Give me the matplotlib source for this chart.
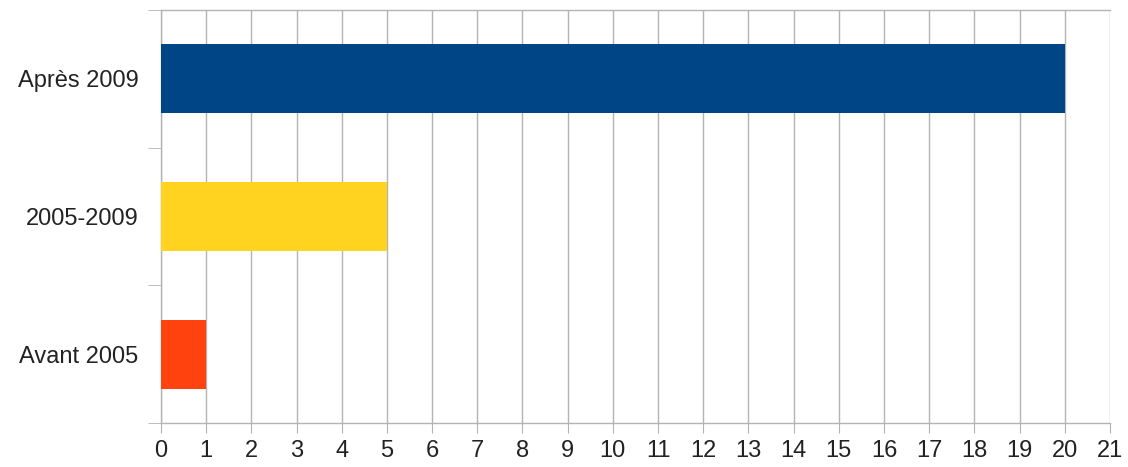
import matplotlib

matplotlib.use("Agg")
import matplotlib.pyplot as plt
import numpy as np

categories = ["Avant 2005", "2005-2009", "Après 2009"]
values = [1, 5, 20]
colors = ["#ff420e", "#ffd320", "#004586"]
GRID = "#b3b3b3"

plt.rcParams["font.family"] = ["Liberation Sans", "DejaVu Sans"]

fig = plt.figure(figsize=(11.28, 4.67), dpi=100)
ax = fig.add_axes([0.1427, 0.0942, 0.8413, 0.8844])

y = np.arange(len(categories))
ax.barh(y, values, height=0.5, color=colors, zorder=3)

ax.set_xlim(0, 21)
ax.set_ylim(-0.5, len(categories) - 0.5)
ax.set_xticks(np.arange(0, 22))
ax.set_yticks(y)
ax.set_yticklabels(categories)
ax.set_yticks(np.arange(-0.5, len(categories)), minor=True)

ax.grid(axis="x", color=GRID, lw=1, zorder=0)
for s in ax.spines.values():
    s.set_color(GRID)
    s.set_linewidth(1)
ax.spines["right"].set_visible(False)

ax.tick_params(axis="x", length=7.5, color=GRID, labelsize=17, pad=5, labelcolor="#222222")
ax.tick_params(axis="y", which="major", length=0, labelsize=17, pad=16, labelcolor="#222222")
ax.tick_params(axis="y", which="minor", length=9.5, color=GRID)

fig.savefig("out.png", dpi=100)
